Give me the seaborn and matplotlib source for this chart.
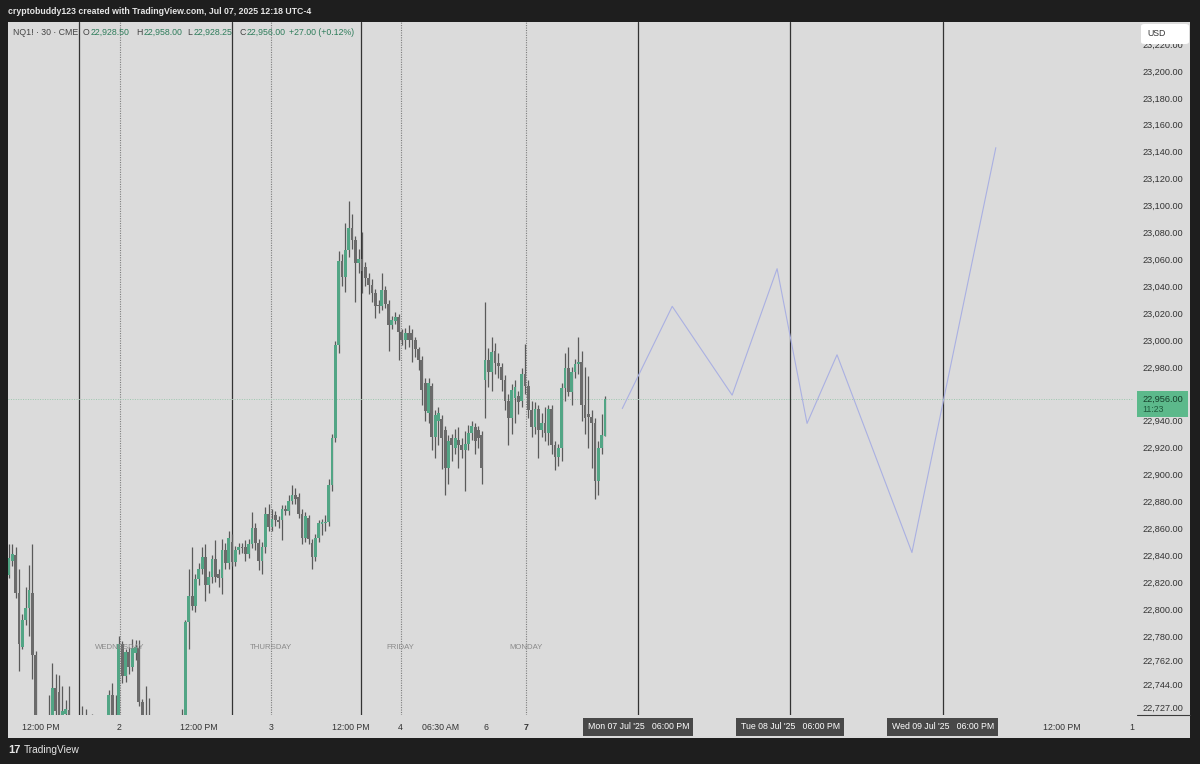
import numpy as np
import pandas as pd
import seaborn as sns
import matplotlib.pyplot as plt
from matplotlib.patches import Rectangle, FancyBboxPatch
from matplotlib.lines import Line2D
from matplotlib.transforms import blended_transform_factory

# NQ1! 30 min bars, Jul 1 06:00 -> Jul 7 12:00 (ET)
opens = [22825, 22836, 22840, 22812, 22772, 22792, 22801, 22812, 22766, 22700,
         22690, 22698, 22692, 22706, 22741, 22738, 22716, 22722, 22725, 22712,
         22700, 22690, 22698, 22710, 22702, 22696, 22705, 22697, 22690, 22700,
         22705, 22736, 22712, 22708, 22774, 22750, 22768, 22757, 22767, 22771,
         22731, 22705, 22695, 22702, 22690, 22680, 22688, 22678, 22686, 22694,
         22688, 22697, 22703, 22710, 22790, 22810, 22802, 22822, 22830, 22839,
         22818, 22824, 22837, 22826, 22823, 22844, 22834, 22850, 22835, 22844,
         22846, 22846, 22841, 22848, 22860, 22849, 22836, 22846, 22871, 22861,
         22870, 22866, 22866, 22874, 22873, 22880, 22885, 22883, 22871, 22853,
         22868, 22849, 22839, 22853, 22863, 22864, 22865, 22892, 22927, 22996,
         23059, 23047, 23067, 23083, 23074, 23057, 23060, 23054, 23046, 23041,
         23035, 23026, 23025, 23037, 23027, 23011, 23014, 23017, 23006, 23000,
         23005, 23005, 23000, 22993, 22985, 22968, 22946, 22966, 22928, 22940,
         22941, 22933, 22905, 22927, 22920, 22926, 22922, 22918, 22923, 22931,
         22935, 22933, 22929, 22970, 22985, 22976, 22992, 22983, 22980, 22970,
         22955, 22942, 22957, 22958, 22955, 22975, 22966, 22948, 22935, 22949,
         22933, 22938, 22931, 22949, 22922, 22913, 22920, 22964, 22979, 22961,
         22976, 22982, 22984, 22952, 22945, 22943, 22938, 22895, 22920, 22928.5]
highs = [22848, 22848, 22846, 22830, 22796, 22816, 22833, 22848, 22769, 22708,
         22705, 22710, 22736, 22760, 22752, 22751, 22743, 22732, 22743, 22716,
         22705, 22708, 22728, 22726, 22712, 22722, 22712, 22704, 22708, 22718,
         22740, 22745, 22736, 22780, 22776, 22770, 22772, 22778, 22777, 22777,
         22733, 22743, 22734, 22710, 22696, 22694, 22692, 22692, 22700, 22702,
         22706, 22712, 22726, 22792, 22830, 22846, 22826, 22834, 22846, 22848,
         22828, 22840, 22851, 22830, 22852, 22849, 22858, 22856, 22847, 22849,
         22849, 22851, 22852, 22872, 22864, 22852, 22850, 22876, 22878, 22874,
         22873, 22869, 22877, 22877, 22885, 22892, 22890, 22886, 22874, 22872,
         22870, 22852, 22856, 22866, 22867, 22870, 22897, 22930, 22999, 23066,
         23064, 23087, 23103, 23094, 23077, 23068, 23080, 23058, 23050, 23045,
         23038, 23030, 23050, 23040, 23030, 23018, 23021, 23019, 23008, 23009,
         23011, 23008, 23002, 22995, 22988, 22972, 22972, 22968, 22948, 22950,
         22944, 22936, 22929, 22930, 22934, 22935, 22927, 22932, 22937, 22940,
         22938, 22936, 22932, 23028, 22994, 23002, 22998, 22990, 22983, 22974,
         22960, 22967, 22970, 22962, 22979, 22997, 22970, 22955, 22954, 22952,
         22946, 22950, 22952, 22952, 22925, 22923, 22968, 22990, 22995, 22980,
         22986, 23002, 22992, 22980, 22973, 22948, 22942, 22925, 22945, 22958]
lows = [22823, 22832, 22808, 22754, 22770, 22788, 22780, 22748, 22690, 22680,
        22682, 22685, 22688, 22702, 22718, 22705, 22712, 22716, 22705, 22690,
        22682, 22685, 22694, 22696, 22690, 22692, 22690, 22684, 22686, 22696,
        22700, 22706, 22700, 22704, 22745, 22746, 22752, 22754, 22762, 22728,
        22695, 22688, 22690, 22684, 22672, 22675, 22670, 22673, 22682, 22683,
        22684, 22692, 22700, 22706, 22770, 22799, 22798, 22818, 22826, 22806,
        22812, 22819, 22820, 22816, 22811, 22830, 22830, 22832, 22832, 22841,
        22842, 22836, 22838, 22845, 22844, 22829, 22826, 22842, 22858, 22858,
        22862, 22860, 22851, 22870, 22870, 22878, 22878, 22868, 22848, 22850,
        22848, 22830, 22836, 22850, 22855, 22858, 22862, 22888, 22924, 22990,
        23040, 23036, 23062, 23068, 23028, 23050, 23035, 23040, 23034, 23028,
        23016, 23020, 23022, 23024, 22992, 23008, 23012, 22985, 22996, 22993,
        22995, 22984, 22987, 22978, 22952, 22940, 22938, 22918, 22912, 22922,
        22904, 22885, 22893, 22910, 22915, 22905, 22912, 22888, 22918, 22926,
        22915, 22920, 22893, 22942, 22965, 22962, 22975, 22972, 22962, 22948,
        22922, 22930, 22938, 22945, 22950, 22960, 22942, 22928, 22930, 22912,
        22928, 22925, 22922, 22915, 22903, 22906, 22910, 22955, 22958, 22952,
        22972, 22975, 22940, 22930, 22920, 22905, 22882, 22885, 22915, 22928.25]
closes = [22838, 22841, 22812, 22774, 22792, 22801, 22814, 22766, 22700, 22690,
          22698, 22692, 22706, 22741, 22724, 22712, 22724, 22726, 22712, 22700,
          22690, 22698, 22710, 22702, 22696, 22705, 22697, 22690, 22700, 22705,
          22736, 22712, 22708, 22774, 22750, 22768, 22757, 22771, 22772, 22731,
          22705, 22695, 22702, 22690, 22680, 22688, 22678, 22686, 22694, 22688,
          22697, 22703, 22710, 22790, 22810, 22802, 22822, 22830, 22839, 22818,
          22824, 22837, 22824, 22823, 22844, 22834, 22853, 22835, 22844, 22846,
          22845, 22841, 22848, 22860, 22849, 22836, 22846, 22871, 22861, 22867,
          22866, 22865, 22874, 22873, 22880, 22885, 22882, 22871, 22853, 22869,
          22852, 22839, 22853, 22864, 22865, 22865, 22892, 22927, 22996, 23059,
          23047, 23067, 23083, 23074, 23057, 23060, 23051, 23046, 23041, 23035,
          23025, 23025, 23037, 23027, 23011, 23015, 23017, 23006, 23000, 23005,
          23000, 23000, 22993, 22985, 22963, 22947, 22968, 22928, 22944, 22946,
          22927, 22905, 22925, 22922, 22927, 22922, 22918, 22923, 22931, 22936,
          22925, 22927, 22905, 22985, 22976, 22991, 22983, 22981, 22970, 22955,
          22942, 22963, 22965, 22954, 22975, 22966, 22948, 22935, 22949, 22933,
          22938, 22931, 22949, 22922, 22913, 22920, 22964, 22979, 22961, 22976,
          22982, 22984, 22952, 22942, 22943, 22938, 22895, 22920, 22929, 22956]

# projected path drawn on the chart (bar index, price)
proj_bar = [184.2, 199.2, 217.2, 230.7, 239.7, 248.7, 271.2, 296.4]
proj_price = [22949, 23025, 22959, 23053, 22938, 22989, 22842, 23143]

session_lines = [21, 66.9, 105.6, 189, 234.6, 280.5]
midnight_lines = [33.3, 78.6, 117.6, 155.4]
day_names = ['WEDNESDAY', 'THURSDAY', 'FRIDAY', 'MONDAY']

time_ticks = [9.6, 33, 57, 78.6, 102.6, 117.6, 129.6, 143.4, 155.4, 316.2, 337.2]
time_labels = ['12:00 PM', '2', '12:00 PM', '3', '12:00 PM', '4', '06:30 AM', '6', '7', '12:00 PM', '1']
future_ticks = [189, 234.6, 280.5]
future_labels = ["Mon 07 Jul '25   06:00 PM", "Tue 08 Jul '25   06:00 PM", "Wed 09 Jul '25   06:00 PM"]

price_ticks = [22727, 22744, 22762] + list(range(22780, 23221, 20))
last_price = 22956

W, H = 1200, 764
def fx(x):
    return x / W
def fy(y):
    return 1 - y / H

sns.set_theme(style='white')
plt.rcParams['font.family'] = ['Liberation Sans', 'DejaVu Sans']

bg = '#1e1e1e'
panel = '#dbdbdb'
up_col = '#52a585'
dn_col = '#6b6b6b'
wick_col = '#5a5a5a'

fig = plt.figure(figsize=(12, 7.64), dpi=100, facecolor=bg)
fig.add_artist(Rectangle((fx(8), fy(738)), fx(1182), 716 / H, transform=fig.transFigure,
                         facecolor=panel, edgecolor='none', zorder=-5))

ax = fig.add_axes([fx(8), fy(715), fx(1125), 693 / H])
ax.set_facecolor(panel)

x = np.arange(len(closes))
o = np.array(opens, dtype=float)
c = np.array(closes, dtype=float)
cols = np.where(c >= o, up_col, dn_col)
body_lo = np.minimum(o, c)
body_h = np.maximum(np.abs(c - o), 0.8)

ax.vlines(x, lows, highs, color=wick_col, lw=0.9, zorder=3)
ax.bar(x, body_h, bottom=body_lo, width=0.84, color=cols, linewidth=0, zorder=4)

proj = pd.DataFrame({'bar': proj_bar, 'price': proj_price})
sns.lineplot(data=proj, x='bar', y='price', ax=ax, color='#aab0e2', lw=0.8,
             sort=False, estimator=None, zorder=2)

for v in session_lines:
    ax.axvline(v, color='#333333', lw=0.9, zorder=1)
for v in midnight_lines:
    ax.axvline(v, color='#7d7d7d', lw=0.8, ls=(0, (1, 1.2)), zorder=1)
ax.axhline(last_price, color='#9dc6ae', lw=0.7, ls=(0, (1, 1.5)), zorder=1)

tr = blended_transform_factory(ax.transData, ax.transAxes)
for v, name in zip(midnight_lines, day_names):
    ax.text(v, 0.097, name, transform=tr, ha='center', va='center',
            fontsize=5.6, color='#8a8a8a', zorder=5)

ax.set_xlim(-0.3, 337.6)
ax.set_ylim(22721.2, 23236.4)
ax.set_xlabel('')
ax.set_ylabel('')
for s in ax.spines.values():
    s.set_visible(False)

ax.set_xticks(time_ticks)
ax.set_xticklabels(time_labels, fontsize=6.3, color='#333333')
for lab in ax.get_xticklabels():
    if lab.get_text() == '7':
        lab.set_fontweight('bold')
ax.tick_params(axis='x', length=0, pad=5.5)

ax.yaxis.tick_right()
ax.set_yticks(price_ticks)
ax.set_yticklabels([f'{v:,.2f}' for v in price_ticks], fontsize=6.6, color='#333333')
ax.tick_params(axis='y', length=0, pad=7)

for v, lab in zip(future_ticks, future_labels):
    ax.text(v, -0.0173, lab, transform=tr, ha='center', va='center', fontsize=6.3,
            color='white', zorder=6, clip_on=False,
            bbox=dict(boxstyle='square,pad=0.5', facecolor='#484848', edgecolor='none'))

# header strips
fig.text(fx(8), fy(12), 'cryptobuddy123 created with TradingView.com, Jul 07, 2025 12:18 UTC-4',
         color='#e6e6e6', fontsize=6.3, fontweight='bold', va='center')
fig.text(fx(13), fy(35), 'NQ1! · 30 · CME', color='#444444', fontsize=6.3, va='baseline')
ohlc = [('O', '22,928.50', 83, 7.5), ('H', '22,958.00', 136, 7.2),
        ('L', '22,928.25', 187, 6.4), ('C', '22,956.00', 239, 7.2)]
for letter, val, px, off in ohlc:
    fig.text(fx(px), fy(35), letter, color='#444444', fontsize=6.3, va='baseline')
    fig.text(fx(px + off), fy(35), val, color='#2e7d5b', fontsize=6.3, va='baseline')
fig.text(fx(289), fy(35), '+27.00 (+0.12%)', color='#2e7d5b', fontsize=6.3, va='baseline')

# price scale extras
fig.add_artist(FancyBboxPatch((fx(1141), fy(44)), fx(48), 20 / H, boxstyle='round,pad=0,rounding_size=0.003',
                              transform=fig.transFigure, facecolor='white', edgecolor='none', zorder=5))
fig.text(fx(1147), fy(34), 'USD', color='#333333', fontsize=6.3, va='center', zorder=6)
fig.add_artist(Rectangle((fx(1137), fy(417)), fx(51), 26 / H, transform=fig.transFigure,
                         facecolor='#5cb98b', edgecolor='none', zorder=5))
fig.text(fx(1142), fy(399), f'{last_price:,.2f}', color='#173f2b', fontsize=6.6, va='center', zorder=6)
fig.text(fx(1142), fy(410), '11:23', color='#1f5a3d', fontsize=6.3, va='center', zorder=6)
fig.add_artist(Line2D([fx(1137), fx(1190)], [fy(715), fy(715)], transform=fig.transFigure,
                      color='#3c3c3c', lw=0.8, zorder=5))

# footer logo
fig.text(fx(8), fy(750), '17', color='#e6e6e6', fontsize=8, fontweight='bold', va='center')
fig.text(fx(24), fy(750), 'TradingView', color='#e6e6e6', fontsize=7.3, va='center')

fig.savefig('out.png', dpi=100, facecolor=bg)
